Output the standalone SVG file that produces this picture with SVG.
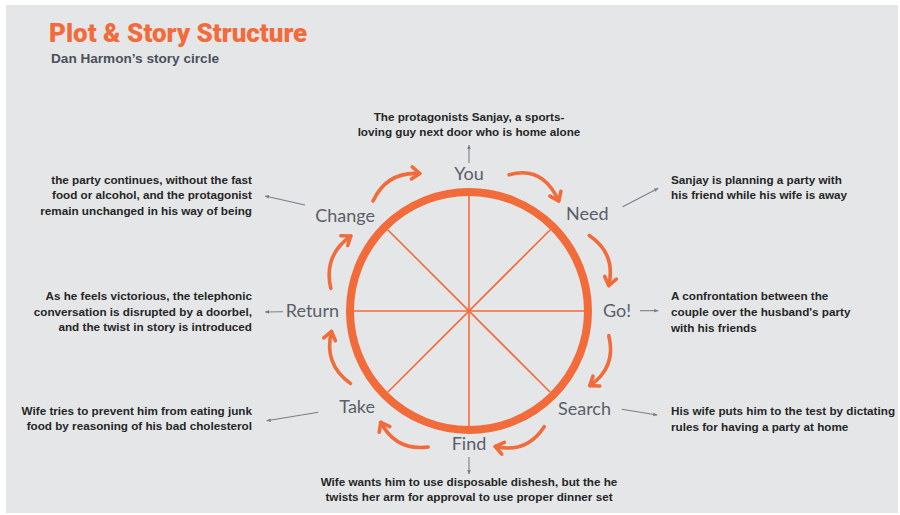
<svg xmlns="http://www.w3.org/2000/svg" width="900" height="515" viewBox="0 0 900 515">
<style>
.title{font-family:Roboto,"Liberation Sans",sans-serif;font-weight:900;font-size:26px;fill:#f26b3a}
.sub{font-family:"Liberation Sans",Arial,sans-serif;font-weight:700;font-size:13.6px;fill:#4a4f5b}
.lbl{font-family:Lato,"Open Sans",sans-serif;font-size:18px;fill:#5a5e69}
.desc{font-family:"Liberation Sans",Arial,sans-serif;font-weight:700;font-size:11.7px;fill:#262626}
.arc{fill:none;stroke:#f26b3a;stroke-width:3.6;stroke-linecap:round;marker-end:url(#ah)}
.con{fill:none;stroke:#7a7d85;stroke-width:1.1;marker-end:url(#sm)}
.spoke{stroke:#f26b3a;stroke-width:1.6}
</style>
<defs>
<marker id="ah" markerUnits="userSpaceOnUse" markerWidth="20" markerHeight="20" refX="0" refY="0" viewBox="-12 -10 16 20" orient="auto">
<path d="M-8,-6 L0,0 L-8,6" fill="none" stroke="#f26b3a" stroke-width="3.6" stroke-linecap="round" stroke-linejoin="round"/>
</marker>
<marker id="sm" markerUnits="userSpaceOnUse" markerWidth="8" markerHeight="8" refX="0" refY="0" viewBox="-4 -3 5 6" orient="auto">
<path d="M-3,-1.4 L0,0 L-3,1.4 Z" fill="#7a7d85"/>
</marker>
</defs>
<rect x="0" y="0" width="900" height="515" fill="#ffffff"/>
<rect x="6" y="5" width="892" height="508" fill="#e5e6e8"/>
<g id="title">
<text class="title" x="49" y="41.5">Plot &amp; Story Structure</text>
<text class="sub" x="51" y="63">Dan Harmon’s story circle</text>
</g>
<g id="wheel">
<line class="spoke" x1="469" y1="196" x2="469" y2="426"/>
<line class="spoke" x1="354" y1="311" x2="584" y2="311"/>
<line class="spoke" x1="387.7" y1="229.7" x2="550.3" y2="392.3"/>
<line class="spoke" x1="550.3" y1="229.7" x2="387.7" y2="392.3"/>
<circle cx="469" cy="311" r="119" fill="none" stroke="#f26b3a" stroke-width="8"/>
</g>
<g id="cycle-arrows">
<path class="arc" d="M509.1,174.8 Q542.7,165.2 558.7,201.0"/>
<path class="arc" d="M589.3,235.5 Q616.3,253.9 608.7,285.6"/>
<path class="arc" d="M608.8,335.7 Q616.7,367.2 589.8,385.6"/>
<path class="arc" d="M544.2,426.7 Q526.7,453.8 495.3,446.5"/>
<path class="arc" d="M428.2,447.0 Q395.9,451.1 380.8,422.3"/>
<path class="arc" d="M350.4,383.4 Q323.3,363.9 331.5,331.5"/>
<path class="arc" d="M330.8,288.4 Q323.2,255.5 350.8,236.0"/>
<path class="arc" d="M373.0,201.0 Q387.0,171.3 419.8,173.5"/>
</g>
<g id="connectors">
<line class="con" x1="469" y1="163" x2="469" y2="145"/>
<line class="con" x1="622.7" y1="206.7" x2="658.3" y2="188.3"/>
<line class="con" x1="640" y1="310.7" x2="658.3" y2="310.7"/>
<line class="con" x1="621.7" y1="409.3" x2="657.3" y2="415"/>
<line class="con" x1="469" y1="457" x2="469" y2="474"/>
<line class="con" x1="318.3" y1="412.3" x2="266.7" y2="420.7"/>
<line class="con" x1="283" y1="311.7" x2="265" y2="312"/>
<line class="con" x1="305" y1="205" x2="265" y2="196"/>
</g>
<g id="node-you">
<text class="lbl" x="469" y="180" text-anchor="middle">You</text>
<text class="desc" x="469" y="121" text-anchor="middle">The protagonists Sanjay, a sports-</text>
<text class="desc" x="469" y="136" text-anchor="middle">loving guy next door who is home alone</text>
</g>
<g id="node-need">
<text class="lbl" x="566" y="220">Need</text>
<text class="desc" x="671" y="184">Sanjay is planning a party with</text>
<text class="desc" x="671" y="199">his friend while his wife is away</text>
</g>
<g id="node-go">
<text class="lbl" x="603" y="317">Go!</text>
<text class="desc" x="671" y="300">A confrontation between the</text>
<text class="desc" x="671" y="316">couple over the husband's party</text>
<text class="desc" x="671" y="331.5">with his friends</text>
</g>
<g id="node-search">
<text class="lbl" x="558" y="415">Search</text>
<text class="desc" x="671" y="415">His wife puts him to the test by dictating</text>
<text class="desc" x="671" y="430.5">rules for having a party at home</text>
</g>
<g id="node-find">
<text class="lbl" x="469" y="450" text-anchor="middle">Find</text>
<text class="desc" x="469" y="486" text-anchor="middle">Wife wants him to use disposable dishesh, but the he</text>
<text class="desc" x="469" y="501" text-anchor="middle">twists her arm for approval to use proper dinner set</text>
</g>
<g id="node-take">
<text class="lbl" x="375" y="413" text-anchor="end">Take</text>
<text class="desc" x="252" y="415" text-anchor="end">Wife tries to prevent him from eating junk</text>
<text class="desc" x="252" y="430" text-anchor="end">food by reasoning of his bad cholesterol</text>
</g>
<g id="node-return">
<text class="lbl" x="339" y="317" text-anchor="end">Return</text>
<text class="desc" x="252" y="300" text-anchor="end">As he feels victorious, the telephonic</text>
<text class="desc" x="252" y="315.7" text-anchor="end">conversation is disrupted by a doorbel,</text>
<text class="desc" x="252" y="331" text-anchor="end">and the twist in story is introduced</text>
</g>
<g id="node-change">
<text class="lbl" x="375" y="222" text-anchor="end">Change</text>
<text class="desc" x="252" y="183.5" text-anchor="end">the party continues, without the fast</text>
<text class="desc" x="252" y="199" text-anchor="end">food or alcohol, and the protagonist</text>
<text class="desc" x="252" y="214.5" text-anchor="end">remain unchanged in his way of being</text>
</g>
</svg>
